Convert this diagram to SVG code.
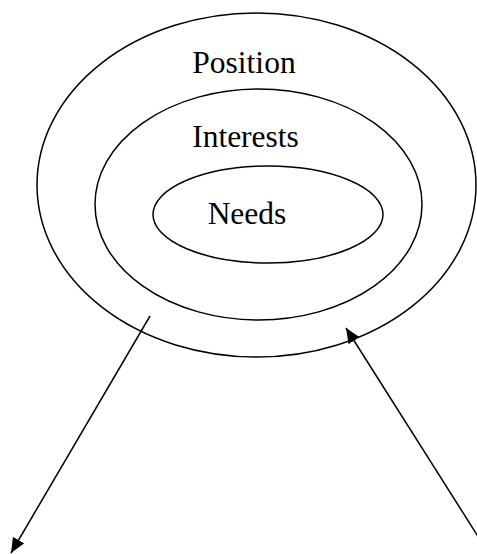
<svg xmlns="http://www.w3.org/2000/svg" width="477" height="554" viewBox="0 0 477 554">
<style>
.ring{fill:none;stroke:#000;stroke-width:1.5}
.lbl{font-family:"Liberation Serif","Times New Roman",serif;font-size:31.5px;fill:#000;text-anchor:middle}
.conn{stroke:#000;stroke-width:1.5;fill:none}
</style>
<defs>
<marker id="ah" markerUnits="userSpaceOnUse" viewBox="0 0 15 13" refX="15" refY="6.5" markerWidth="15" markerHeight="13" orient="auto">
<path d="M0,0 L15,6.5 L0,13 z" fill="#000"/>
</marker>
</defs>
<rect width="477" height="554" fill="#fff"/>
<g id="position">
<ellipse class="ring" cx="256.5" cy="185" rx="219.5" ry="172"/>
<text class="lbl" x="244" y="73">Position</text>
</g>
<g id="interests">
<ellipse class="ring" cx="258.5" cy="204.5" rx="163.5" ry="115.5"/>
<text class="lbl" x="245.5" y="147">Interests</text>
</g>
<g id="needs">
<ellipse class="ring" cx="268" cy="214.5" rx="115" ry="48.5"/>
<text class="lbl" x="247" y="224">Needs</text>
</g>
<g id="connectors">
<line class="conn" x1="150" y1="316" x2="11" y2="553" marker-end="url(#ah)"/>
<line class="conn" x1="486" y1="549" x2="346" y2="328" marker-end="url(#ah)"/>
</g>
</svg>
